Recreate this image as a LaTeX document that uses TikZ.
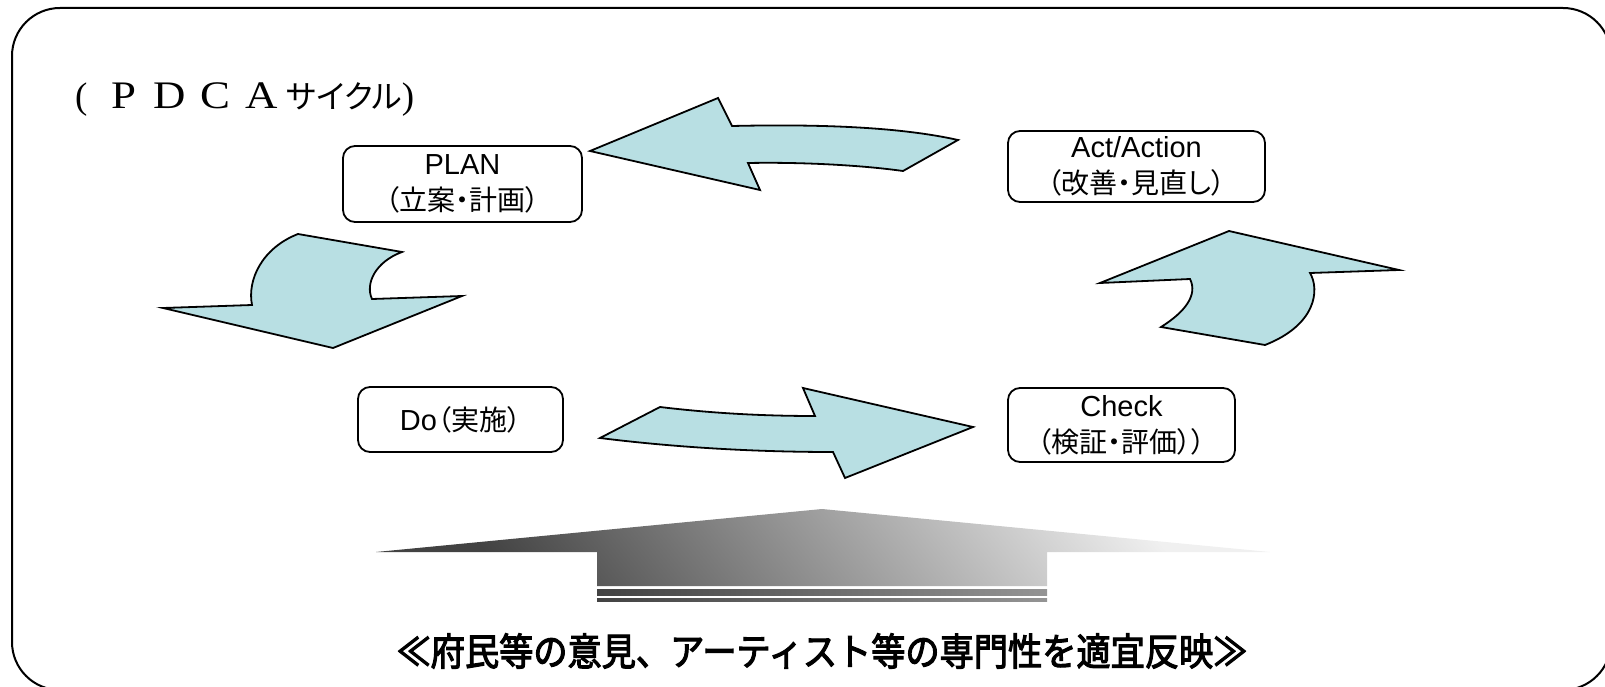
\documentclass[tikz,border=0pt]{standalone}
\usepackage{fontspec}
\usepackage{graphicx}
\setmainfont{Liberation Sans}
\newfontfamily\cjk{Noto Sans CJK JP}
\newfontfamily\cjkp[RawFeature=+palt]{Noto Sans CJK JP}
\newfontfamily\cjkcap[FakeBold=3]{Noto Sans CJK JP}
\newfontfamily\titleserif{Liberation Serif}
\definecolor{arrowfill}{RGB}{184,223,227}
\newcommand\pdcaletter[1]{\makebox[46pt]{\titleserif\fontsize{39}{39}\selectfont\scalebox{1.15}[1]{#1}}}
\newcommand\jpline[1]{{\cjkp\fontsize{28}{36}\selectfont #1}}
\tikzset{
  frame/.style={draw, line width=2pt, rounded corners=48pt},
  stagebox/.style={draw, line width=1.8pt, rounded corners=12pt, align=center, inner sep=0pt,
    font=\fontsize{29}{36}\selectfont},
  cyclearrow/.style={draw, line width=1.8pt, fill=arrowfill, line join=miter},
}
\begin{document}
\begin{tikzpicture}[x=1pt,y=-1pt]
\useasboundingbox (0,0) rectangle (1605,687);
\clip (0,0) rectangle (1605,687);
\draw[frame] (12,8) rectangle (1611,690);

% title
\node[anchor=west, inner sep=0pt] (title) at (75,100)
  {{\titleserif\fontsize{37}{37}\selectfont (}\hspace{13pt}\pdcaletter{P}\pdcaletter{D}\pdcaletter{C}\pdcaletter{A}\hspace{2pt}{\cjkp\fontsize{32}{32}\selectfont サイクル}{\titleserif\fontsize{37}{37}\selectfont )}};

% stage boxes
\node[stagebox, minimum width=239pt, minimum height=76pt] (plan) at (462.5,184)
  {PLAN\\\jpline{（立案・計画）}};
\node[stagebox, minimum width=257pt, minimum height=71pt] (act) at (1136.5,166.5)
  {Act/Action\\\jpline{（改善・見直し）}};
\node[stagebox, minimum width=205pt, minimum height=65pt] (do) at (460.5,419.5)
  {Do\jpline{（実施）}};
\node[stagebox, minimum width=227pt, minimum height=74pt] (check) at (1121.5,425)
  {Check\\\jpline{（検証・評価））}};

% cycle arrows
% Act -> Plan
\draw[cyclearrow] (590,151) -- (718,98) -- (732,126)
  .. controls (820,124) and (900,127) .. (958,140) -- (903,171)
  .. controls (860,165) and (800,162) .. (748,163) -- (760,190) -- cycle;
% Plan -> Do
\draw[cyclearrow] (298,234) -- (402,252)
  .. controls (375,262) and (365,284) .. (372,299) -- (462,296) -- (333,348)
  -- (163,308) -- (252,305) .. controls (247,280) and (262,248) .. cycle;
% Do -> Check
\draw[cyclearrow] (600,438) -- (660,407)
  .. controls (710,413) and (760,416) .. (815,416) -- (803,388) -- (973,427)
  -- (845,478) -- (833,452) .. controls (760,452) and (680,448) .. cycle;
% Check -> Act
\draw[cyclearrow] (1229,231) -- (1399,270) -- (1310,273)
  .. controls (1320,290) and (1316,325) .. (1265,345) -- (1161,327)
  .. controls (1185,312) and (1198,295) .. (1190,279) -- (1100,283) -- cycle;

% input arrow (gradient)
\shade[top color=black!6, bottom color=black!74, shading angle=-52]
  (376,552) -- (822,509) -- (1270,552) -- (1047,552) -- (1047,586)
  -- (597,586) -- (597,552) -- cycle;
\shade[left color=black!74, right color=black!42] (597,589) rectangle (1047,595);
\shade[left color=black!74, right color=black!42] (597,598) rectangle (1047,601);

% bottom caption
\node[inner sep=0pt] (caption) at (822,651)
  {\scalebox{0.9}[1]{\cjkcap\fontsize{38}{38}\selectfont ≪府民等の意見、アーティスト等の専門性を適宜反映≫}};
\end{tikzpicture}
\end{document}
